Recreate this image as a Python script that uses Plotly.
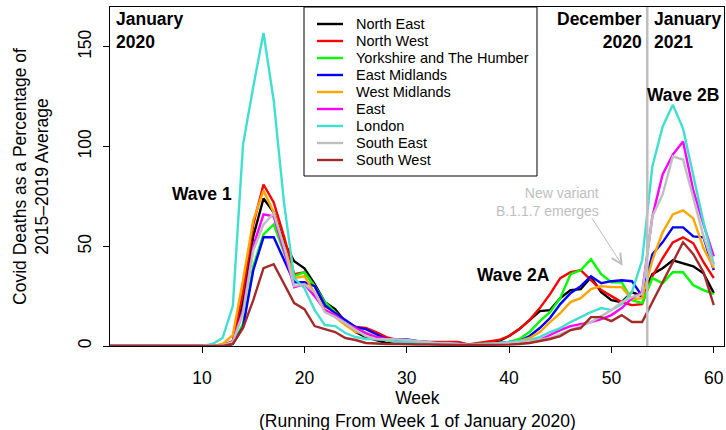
import plotly.graph_objects as go

weeks = list(range(1, 61))

north_east = [0, 0, 0, 0, 0, 0, 0, 0, 0, 0,
              0, 0.3, 2, 22, 55, 74, 67, 52, 42.5, 39,
              31, 22, 18.5, 12, 7, 4.5, 3, 1.5, 1.2, 1,
              1, 1, 1, 1, 0.8, 0.5, 1, 1.5, 2.5, 5,
              8.5, 13, 17.5, 18, 24, 28, 28.5, 34.5, 27, 23,
              22, 27, 25, 36, 39, 43, 41.5, 40, 36.5, 26.5]
north_west = [0, 0, 0, 0, 0, 0, 0, 0, 0, 0,
              0, 0.3, 2.5, 27, 61, 81, 72, 55, 36, 37,
              30, 20, 17, 12, 9.5, 9, 7, 4.5, 3, 2,
              2, 2, 2, 2, 2, 0.8, 1.5, 2, 3, 5,
              8.5, 13, 19, 26, 34, 37, 38, 33, 28, 25,
              22, 20.5, 21, 35, 44, 52, 54.5, 51.5, 42, 34]
yorkshire = [0, 0, 0, 0, 0, 0, 0, 0, 0, 0,
             0, 0, 1, 11, 40, 56, 61, 47, 35, 37,
             30, 22, 17, 12, 9.5, 6.5, 4.5, 3, 2, 1.5,
             1.5, 1.5, 1, 1, 1, 0.5, 1, 1, 1.5, 2,
             3.5, 7, 12.5, 17, 24, 36, 38, 43.5, 36, 32,
             32, 23, 21.5, 34, 31.5, 37, 37, 30.5, 28, 26]
east_midlands = [0, 0, 0, 0, 0, 0, 0, 0, 0, 0,
                 0, 0, 1, 9.5, 38, 54.5, 54.5, 43, 32, 32,
                 30, 20.5, 16.5, 13, 9.5, 8.5, 6, 3.5, 3.3, 3.3,
                 2.6, 2, 1.5, 1.5, 1.2, 0.5, 1, 1, 1.5, 2,
                 2.5, 5, 9, 14, 21, 26.5, 30, 35, 31.5, 32.5,
                 33, 32.5, 25, 46, 52, 59.5, 59.5, 55, 54.5, 38]
west_midlands = [0, 0, 0, 0, 0, 0, 0, 0, 0, 0,
                 0, 1, 5.5, 33, 63, 78, 67, 50, 34, 35,
                 26.5, 18, 14.5, 10.5, 7, 6.5, 4.5, 3, 2.5, 2,
                 1.5, 1.5, 1, 1, 1, 0.5, 1, 1, 1, 1.5,
                 2.5, 4, 7, 12, 16.5, 22, 24, 28.5, 30, 29.5,
                 29.5, 23.5, 24, 43, 57, 66, 68, 64, 49, 39]
east = [0, 0, 0, 0, 0, 0, 0, 0, 0, 0,
        0, 0, 2, 18, 50, 66, 65, 48, 29.5, 31,
        25, 18, 15.5, 11.5, 9, 6.5, 4.5, 3.5, 3, 2,
        1.5, 1.5, 1, 1, 1, 0.5, 0.8, 1, 1, 1.2,
        1.5, 2, 3, 5.5, 8, 10, 11, 12, 13.5, 15.5,
        19, 24, 27, 65, 86, 96, 102.5, 78, 61, 45]
london = [0, 0, 0, 0, 0, 0, 0, 0, 0, 0,
          1, 4, 20, 101, 130, 157, 123, 72, 34, 29,
          18, 10.5, 10, 6.5, 4.5, 3.5, 3.3, 3, 2, 2,
          1.5, 1.5, 1, 1, 1, 0.5, 0.8, 1, 1.5, 2,
          2.5, 3, 4.5, 7, 9, 12, 14.5, 17, 19, 18,
          21, 27, 43, 90, 110, 121, 109, 86, 62, 41]
south_east = [0, 0, 0, 0, 0, 0, 0, 0, 0, 0,
              0, 0.3, 2, 16.5, 48, 61, 66.5, 50, 30, 31,
              27, 17, 14.5, 11.5, 8, 5, 3.5, 3.5, 3.3, 3,
              2.6, 2, 1.5, 1.5, 1, 0.5, 0.8, 1, 1, 1.5,
              2, 2.5, 3, 4, 6, 8, 10, 12, 15, 18,
              22, 24.5, 26, 65, 76, 95, 93.5, 74, 55, 40]
south_west = [0, 0, 0, 0, 0, 0, 0, 0, 0, 0,
              0, 0, 1, 9, 23, 39, 41, 31, 21.5, 18.5,
              10, 8.5, 7, 4, 3, 1.5, 1.2, 1, 1, 0.8,
              0.8, 0.8, 0.6, 0.6, 0.5, 0.5, 0.5, 0.5, 0.5, 0.7,
              1, 1.5, 2.5, 3.5, 5, 8, 9, 14.5, 14.5, 12.5,
              15.5, 12, 12, 22, 32, 42, 52, 46, 37, 20.5]

region_names = ["North East", "North West", "Yorkshire and The Humber",
                "East Midlands", "West Midlands", "East", "London",
                "South East", "South West"]
region_values = [north_east, north_west, yorkshire, east_midlands,
                 west_midlands, east, london, south_east, south_west]
region_colors = ["#000000", "#FF0000", "#00FF00", "#0000FF", "#FFA500",
                 "#FF00FF", "#40E0D0", "#BEBEBE", "#A52A2A"]

x_ticks = [10, 20, 30, 40, 50, 60]
y_ticks = [0, 50, 100, 150]
year_boundary = 53.5

FONT = "Liberation Sans, Arial, Helvetica, sans-serif"
W, H = 726, 430
ML, MR, MT, MB = 110, 2, 7, 84
PW, PH = W - ML - MR, H - MT - MB


def px_x(p):
    return (p - ML) / PW


def px_y(p):
    return (H - MB - p) / PH


fig = go.Figure()
for name, vals, col in zip(region_names, region_values, region_colors):
    fig.add_trace(go.Scatter(x=weeks, y=vals, mode="lines", name=name,
                             line=dict(color=col, width=2.4),
                             showlegend=False))

shapes = [dict(type="line", xref="x", yref="paper", x0=year_boundary,
               x1=year_boundary, y0=0, y1=1,
               line=dict(color="#BEBEBE", width=2.5))]

# legend box
shapes.append(dict(type="rect", xref="paper", yref="paper",
                   x0=px_x(304), x1=px_x(537), y0=px_y(176), y1=1,
                   line=dict(color="black", width=1),
                   fillcolor="white"))
annotations = []
for i, (name, col) in enumerate(zip(region_names, region_colors)):
    py = 24 + 17 * i
    shapes.append(dict(type="line", xref="paper", yref="paper",
                       x0=px_x(317), x1=px_x(343), y0=px_y(py), y1=px_y(py),
                       line=dict(color=col, width=2.4)))
    annotations.append(dict(xref="paper", yref="paper", x=px_x(354),
                            y=px_y(py), xanchor="left", yanchor="middle",
                            text=name, showarrow=False,
                            font=dict(family=FONT, size=14.5, color="black")))

bold = dict(family=FONT, size=17.5, color="black")
annotations += [
    dict(xref="paper", yref="paper", x=px_x(114), y=1, xanchor="left",
         yanchor="top", align="left", text="<b>January<br>2020</b>",
         showarrow=False, font=bold),
    dict(xref="paper", yref="paper", x=px_x(644), y=1, xanchor="right",
         yanchor="top", align="right", text="<b>December<br>2020</b>",
         showarrow=False, font=bold),
    dict(xref="paper", yref="paper", x=px_x(652), y=1, xanchor="left",
         yanchor="top", align="left", text="<b>January<br>2021</b>",
         showarrow=False, font=bold),
    dict(xref="x", yref="y", x=10, y=76, text="<b>Wave 1</b>",
         showarrow=False, font=bold),
    dict(xref="x", yref="y", x=40.45, y=35.7, text="<b>Wave 2A</b>",
         showarrow=False, font=bold),
    dict(xref="x", yref="y", x=56.96, y=126, text="<b>Wave 2B</b>",
         showarrow=False, font=bold),
    dict(xref="x", yref="y", x=49.0, y=72.4, xanchor="right",
         align="right", text="New variant<br>B.1.1.7 emerges",
         showarrow=False,
         font=dict(family=FONT, size=14, color="#BEBEBE")),
    dict(xref="x", yref="y", x=51.1, y=40.2, axref="x", ayref="y",
         ax=48.0, ay=64.8, text="", showarrow=True, arrowhead=5,
         arrowsize=2, arrowwidth=1, arrowcolor="#BEBEBE"),
    # x-axis title (two lines)
    dict(xref="paper", yref="paper", x=0.5, y=px_y(409),
         xanchor="center", yanchor="middle", align="center",
         text="Week<br>(Running From Week 1 of January 2020)",
         showarrow=False, font=dict(family=FONT, size=17.5, color="black")),
]

fig.update_layout(
    width=W, height=H,
    margin=dict(l=ML, r=MR, t=MT, b=MB, pad=0),
    paper_bgcolor="white", plot_bgcolor="white",
    font=dict(family=FONT, size=17.5, color="black"),
    shapes=shapes, annotations=annotations,
    xaxis=dict(range=[1, 61], tickvals=x_ticks,
               ticktext=[str(v) for v in x_ticks],
               ticks="outside", ticklen=6, tickcolor="black",
               showline=True, mirror=True, linecolor="black", linewidth=1,
               showgrid=False, zeroline=False, ticklabelstandoff=10,
               tickfont=dict(family=FONT, size=17.5)),
    yaxis=dict(range=[0, 170], tickvals=y_ticks,
               ticktext=[str(v) for v in y_ticks],
               ticks="outside", ticklen=6, tickcolor="black", tickangle=-90,
               showline=True, mirror=True, linecolor="black", linewidth=1,
               showgrid=False, zeroline=False, ticklabelstandoff=5,
               tickfont=dict(family=FONT, size=17.5),
               title=dict(text="Covid Deaths as a Percentage of<br>2015\u20132019 Average",
                          standoff=21, font=dict(family=FONT, size=17.5))),
)

fig.write_html("out.html", config={"displayModeBar": False},
               post_script="document.body.style.margin='0';document.body.style.overflow='hidden';")
